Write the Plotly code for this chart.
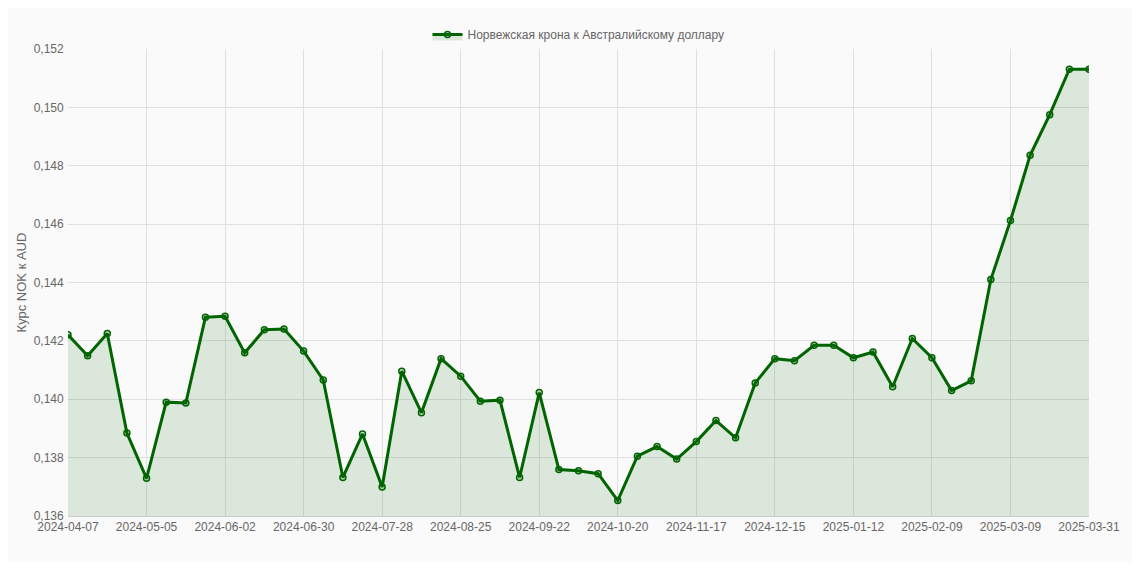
import pandas as pd
import plotly.graph_objects as go

# weekly dates plus final point
dates = [d.strftime('%Y-%m-%d') for d in pd.date_range('2024-04-07', periods=52, freq='7D')] + ['2025-03-31']
rates = [0.14221, 0.14149, 0.14225, 0.13884, 0.13729, 0.13990, 0.13987, 0.14281, 0.14284, 0.14159,
         0.14238, 0.14241, 0.14165, 0.14066, 0.13732, 0.13881, 0.13699, 0.14096, 0.13954, 0.14139,
         0.14079, 0.13993, 0.13997, 0.13732, 0.14023, 0.13759, 0.13755, 0.13745, 0.13653, 0.13805,
         0.13838, 0.13795, 0.13855, 0.13927, 0.13868, 0.14056, 0.14139, 0.14132, 0.14185, 0.14185,
         0.14142, 0.14162, 0.14043, 0.14208, 0.14142, 0.14030, 0.14063, 0.14410, 0.14612, 0.14836,
         0.14975, 0.15131, 0.15131]
tick_labels = dates[::4] + [dates[-1]]

line_green = "#006400"

fig = go.Figure(go.Scatter(
    x=dates, y=rates, mode='lines+markers', fill='tozeroy',
    name='Норвежская крона к Австралийскому доллару',
    line=dict(color=line_green, width=3),
    fillcolor='rgba(0,100,0,0.12)',
    marker=dict(size=6, color='rgba(0,100,0,0.2)', line=dict(color=line_green, width=1.5)),
))

fig.update_layout(
    width=1124, height=554,
    margin=dict(l=60, r=26, t=24, b=46),
    separators=', ',
    paper_bgcolor='#fafafa', plot_bgcolor='#fafafa',
    font=dict(family='Liberation Sans, Arial, sans-serif', size=12, color='#666'),
    showlegend=True,
    legend=dict(orientation='h', x=0.5, xanchor='center', y=1.0, yanchor='bottom',
                font=dict(size=12, color='#666')),
)
fig.update_xaxes(type='category', tickmode='array', tickvals=tick_labels, ticktext=tick_labels,
                 showgrid=True, gridcolor='#e0e0e0', linecolor='#ccc', tickangle=0, ticks='')
fig.update_yaxes(range=[0.136, 0.152], dtick=0.002, tickformat='.3f', ticksuffix=' ',
                 showgrid=True, gridcolor='#e0e0e0', zeroline=False,
                 title=dict(text='Курс NOK к AUD', font=dict(size=13, color='#666'), standoff=4))

fig.write_html("out.html")
